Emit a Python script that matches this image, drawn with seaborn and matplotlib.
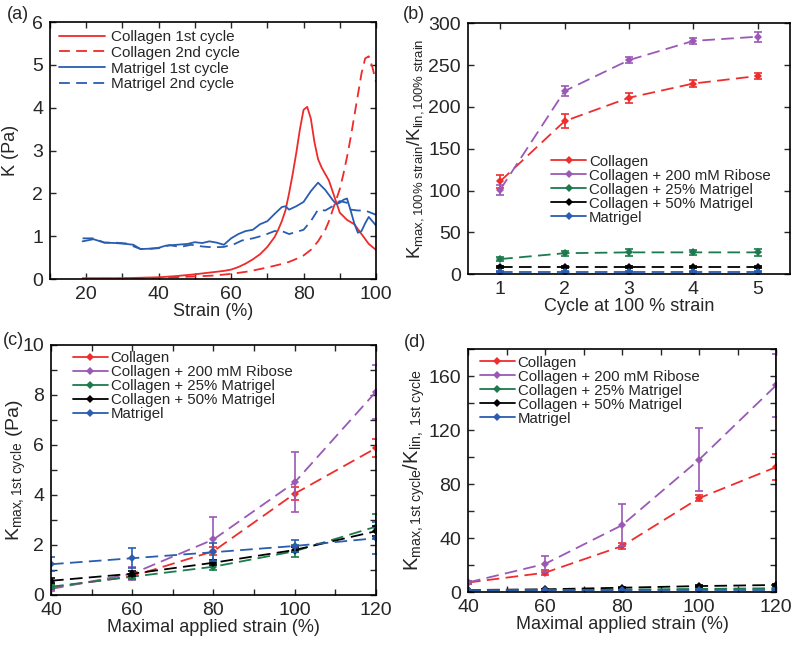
import numpy as np
import pandas as pd
import seaborn as sns
import matplotlib
matplotlib.use("Agg")
import matplotlib.pyplot as plt
from matplotlib.lines import Line2D
from matplotlib.ticker import MultipleLocator

# ---- (a) K vs strain curves ----
col1_strain = [19, 25, 30, 35, 40, 45, 50, 55, 58, 60, 62, 64, 66, 68, 70, 72, 73, 74, 75, 76, 77,
               78, 79, 80, 81, 82, 83, 84, 85, 86, 87, 88, 89, 90, 92, 94, 96, 98, 100]
col1_k = [0.02, 0.02, 0.02, 0.03, 0.04, 0.07, 0.11, 0.16, 0.19, 0.22, 0.28, 0.36, 0.46, 0.58, 0.75,
          0.98, 1.15, 1.35, 1.6, 2.0, 2.45, 2.95, 3.5, 3.95, 4.02, 3.75, 3.2, 2.8, 2.6, 2.45, 2.3,
          2.05, 1.8, 1.55, 1.38, 1.28, 1.05, 0.82, 0.68]
col2_strain = [19, 30, 40, 50, 55, 60, 65, 70, 73, 76, 78, 80, 82, 84, 86, 87, 88, 89, 90, 91, 92,
               93, 94, 95, 96, 97, 98, 99, 100]
col2_k = [0.0, 0.01, 0.03, 0.06, 0.08, 0.12, 0.18, 0.27, 0.33, 0.4, 0.47, 0.55, 0.68, 0.88, 1.15,
          1.35, 1.6, 1.85, 2.1, 2.45, 2.85, 3.3, 3.8, 4.3, 4.8, 5.15, 5.2, 4.95, 4.6]
mat1_strain = [19, 22, 25, 28, 31, 33, 35, 38, 40, 42, 45, 48, 50, 52, 54, 56, 58, 60, 62, 64, 66,
               68, 70, 72, 74, 75, 76, 78, 80, 82, 84, 86, 88, 89, 90, 91, 92, 93, 94, 95, 96,
               97, 98, 99, 100]
mat1_k = [0.88, 0.93, 0.85, 0.84, 0.82, 0.8, 0.7, 0.71, 0.73, 0.78, 0.8, 0.82, 0.86, 0.84, 0.88,
          0.85, 0.8, 0.95, 1.05, 1.12, 1.15, 1.28, 1.35, 1.52, 1.68, 1.7, 1.62, 1.7, 1.8, 2.05, 2.25,
          2.08, 1.85, 1.75, 1.78, 1.85, 1.88, 1.6, 1.3, 1.08, 1.12, 1.3, 1.45, 1.35, 1.25]
mat2_strain = [19, 22, 25, 28, 31, 35, 38, 40, 43, 46, 49, 52, 55, 58, 61, 63, 66, 69, 72, 74, 76,
               78, 80, 82, 84, 86, 88, 90, 92, 93, 95, 97, 100]
mat2_k = [0.95, 0.95, 0.85, 0.85, 0.83, 0.7, 0.71, 0.72, 0.79, 0.75, 0.8, 0.76, 0.74, 0.75, 0.82,
          0.9, 0.95, 1.02, 1.12, 1.12, 1.05, 1.1, 1.15, 1.35, 1.62, 1.6, 1.7, 1.82, 1.78, 1.62, 1.6,
          1.6, 1.5]

# ---- (b) ratio vs cycle ----
cycles = [1, 2, 3, 4, 5]
b_collagen = [111, 183, 211, 228, 237]
b_collagen_err = [8, 8, 6, 4, 4]
b_ribose = [101, 219, 256, 279, 284]
b_ribose_err = [6, 6, 4, 4, 6]
b_m25 = [18, 25, 26, 26, 26]
b_m25_err = [2, 3, 4, 3, 4]
b_m50 = [8.5, 8.5, 8.5, 8.5, 8.5]
b_m50_err = [1, 1, 1, 1, 1]
b_mat = [3, 3, 3, 3, 3]
b_mat_err = [1, 1, 1, 1, 1]

# ---- (c) Kmax 1st cycle vs max strain ----
max_strain = [40, 60, 80, 100, 120]
c_collagen = [0.3, 0.75, 1.75, 4.05, 5.87]
c_collagen_err = [0.1, 0.1, 0.15, 0.25, 0.35]
c_ribose = [0.24, 0.85, 2.22, 4.5, 8.12]
c_ribose_err = [0.1, 0.25, 0.9, 1.2, 1.07]
c_m25 = [0.33, 0.73, 1.13, 1.75, 2.73]
c_m25_err = [0.1, 0.1, 0.15, 0.25, 0.5]
c_m50 = [0.57, 0.85, 1.29, 1.8, 2.55]
c_m50_err = [0.1, 0.1, 0.1, 0.1, 0.2]
c_mat = [1.23, 1.47, 1.71, 1.96, 2.27]
c_mat_err = [0.28, 0.4, 0.35, 0.25, 0.65]

# ---- (d) ratio 1st cycle vs max strain ----
d_collagen = [7, 14.3, 34, 69.5, 92.5]
d_collagen_err = [1, 2, 2, 2, 9.5]
d_ribose = [7.1, 20.8, 49.5, 98, 153]
d_ribose_err = [1, 6, 15.5, 23.5, 23.5]
d_m25 = [1.2, 1.3, 1.8, 2.3, 2.8]
d_m25_err = [0.3, 0.3, 0.3, 0.4, 0.5]
d_m50 = [1.5, 2.0, 3.2, 4.4, 5.2]
d_m50_err = [0.3, 0.3, 0.4, 0.5, 0.6]
d_mat = [1.5, 1.5, 1.5, 1.5, 1.5]
d_mat_err = [0.3, 0.3, 0.3, 0.3, 0.3]

names = ["Collagen", "Collagen + 200 mM Ribose", "Collagen + 25% Matrigel",
         "Collagen + 50% Matrigel", "Matrigel"]
colors = ["#ee2e2e", "#9b59b6", "#1b7a4e", "#000000", "#2a5db0"]
red_a = "#ee2a2a"
blue_a = "#2a5db0"

sns.set_style("ticks")
plt.rcParams["font.family"] = ["Liberation Sans", "DejaVu Sans"]
plt.rcParams["mathtext.fontset"] = "custom"
plt.rcParams["mathtext.rm"] = "Liberation Sans"
plt.rcParams["mathtext.it"] = "Liberation Sans:italic"
plt.rcParams["mathtext.bf"] = "Liberation Sans:bold"

fig = plt.figure(figsize=(8, 6.48), dpi=100)
ax_a = fig.add_axes([0.0625, 0.5694, 0.4075, 0.3966])
ax_b = fig.add_axes([0.585, 0.577, 0.4025, 0.387])
ax_c = fig.add_axes([0.0638, 0.0818, 0.406, 0.386])
ax_d = fig.add_axes([0.585, 0.0864, 0.385, 0.375])

DASH = (0, (7, 3.5))
TICK_FS = 14
LAB_FS = 13


def style_axes(ax):
    for s in ax.spines.values():
        s.set_linewidth(1.2)
        s.set_color("black")
    ax.tick_params(which="both", direction="in", top=True, right=True,
                   length=4.5, width=1.0, labelsize=TICK_FS, pad=5)


# (a)
for xs, ys, c, ls, lab in [
        (col1_strain, col1_k, red_a, "-", "Collagen 1st cycle"),
        (col2_strain, col2_k, red_a, (0, (6, 3.5)), "Collagen 2nd cycle"),
        (mat1_strain, mat1_k, blue_a, "-", "Matrigel 1st cycle"),
        (mat2_strain, mat2_k, blue_a, (0, (6, 3.5)), "Matrigel 2nd cycle")]:
    sns.lineplot(x=xs, y=ys, ax=ax_a, color=c, linestyle=ls, linewidth=1.3,
                 label=lab, sort=False)
ax_a.set_xlim(10, 100)
ax_a.set_ylim(0, 6)
ax_a.xaxis.set_major_locator(MultipleLocator(20))
ax_a.xaxis.set_minor_locator(MultipleLocator(10))
ax_a.yaxis.set_major_locator(MultipleLocator(1))
ax_a.set_xlabel("Strain (%)", fontsize=LAB_FS, labelpad=0)
ax_a.set_ylabel("K (Pa)", fontsize=LAB_FS)
ax_a.yaxis.set_label_coords(-0.095, 0.5)
ax_a.legend(loc="upper left", frameon=False, fontsize=11, handlelength=3.0,
            handletextpad=0.4, labelspacing=0.12, borderaxespad=0.2,
            bbox_to_anchor=(0.0, 1.005))
style_axes(ax_a)


def err_panel(ax, xs, series, errs):
    for ys, es, c in zip(series, errs, colors):
        df = pd.DataFrame({"x": xs, "y": ys})
        sns.lineplot(data=df, x="x", y="y", ax=ax, color=c, linestyle=DASH,
                     linewidth=1.3, marker="D", markersize=4.2,
                     markeredgewidth=0, legend=False)
        ax.errorbar(xs, ys, yerr=es, fmt="none", ecolor=c, elinewidth=1.2,
                    capsize=3.0, capthick=1.2)
    handles = [Line2D([], [], color=c, lw=1.3, marker="D", markersize=4.2,
                      markeredgewidth=0) for c in colors]
    return handles


LEG_KW = dict(frameon=False, fontsize=10.8, handlelength=2.3,
              handletextpad=0.2, labelspacing=0.0)

# (b)
h = err_panel(ax_b, cycles, [b_collagen, b_ribose, b_m25, b_m50, b_mat],
              [b_collagen_err, b_ribose_err, b_m25_err, b_m50_err, b_mat_err])
ax_b.set_xlim(0.5, 5.5)
ax_b.set_ylim(0, 300)
ax_b.xaxis.set_major_locator(MultipleLocator(1))
ax_b.yaxis.set_major_locator(MultipleLocator(50))
ax_b.set_xlabel("Cycle at 100 % strain", fontsize=LAB_FS, labelpad=0)
ax_b.set_ylabel(r"$\mathrm{K_{max,100\%\ strain}/K_{lin,100\%\ strain}}$",
                fontsize=13.5)
ax_b.yaxis.set_label_coords(-0.13, 0.5)
ax_b.legend(h, names, loc="upper left", bbox_to_anchor=(0.24, 0.5),
            borderaxespad=0, **LEG_KW)
style_axes(ax_b)

# (c)
h = err_panel(ax_c, max_strain, [c_collagen, c_ribose, c_m25, c_m50, c_mat],
              [c_collagen_err, c_ribose_err, c_m25_err, c_m50_err, c_mat_err])
ax_c.set_xlim(40, 120)
ax_c.set_ylim(0, 10)
ax_c.xaxis.set_major_locator(MultipleLocator(20))
ax_c.xaxis.set_minor_locator(MultipleLocator(10))
ax_c.yaxis.set_major_locator(MultipleLocator(2))
ax_c.yaxis.set_minor_locator(MultipleLocator(1))
ax_c.set_xlabel("Maximal applied strain (%)", fontsize=LAB_FS, labelpad=0)
ax_c.set_ylabel(r"$\mathrm{K_{max,1st\ cycle}}$ (Pa)", fontsize=14)
ax_c.yaxis.set_label_coords(-0.07, 0.5)
ax_c.legend(h, names, loc="upper left", bbox_to_anchor=(0.04, 1.01),
            borderaxespad=0.2, **LEG_KW)
style_axes(ax_c)

# (d)
h = err_panel(ax_d, max_strain, [d_collagen, d_ribose, d_m25, d_m50, d_mat],
              [d_collagen_err, d_ribose_err, d_m25_err, d_m50_err, d_mat_err])
ax_d.set_xlim(40, 120)
ax_d.set_ylim(0, 180)
ax_d.xaxis.set_major_locator(MultipleLocator(20))
ax_d.xaxis.set_minor_locator(MultipleLocator(10))
ax_d.yaxis.set_major_locator(MultipleLocator(40))
ax_d.yaxis.set_minor_locator(MultipleLocator(20))
ax_d.set_xlabel("Maximal applied strain (%)", fontsize=LAB_FS, labelpad=0)
ax_d.set_ylabel(r"$\mathrm{K_{max,1st\ cycle}/K_{lin,\ 1st\ cycle}}$",
                fontsize=14.5)
ax_d.yaxis.set_label_coords(-0.132, 0.5)
ax_d.legend(h, names, loc="upper left", bbox_to_anchor=(0.01, 1.01),
            borderaxespad=0.2, **LEG_KW)
style_axes(ax_d)

for txt, x, y in [("(a)", 0.009, 0.977), ("(b)", 0.503, 0.977),
                  ("(c)", 0.003, 0.475), ("(d)", 0.505, 0.471)]:
    fig.text(x, y, txt, fontsize=13, ha="left", va="center")

fig.savefig("out.png", dpi=100)
